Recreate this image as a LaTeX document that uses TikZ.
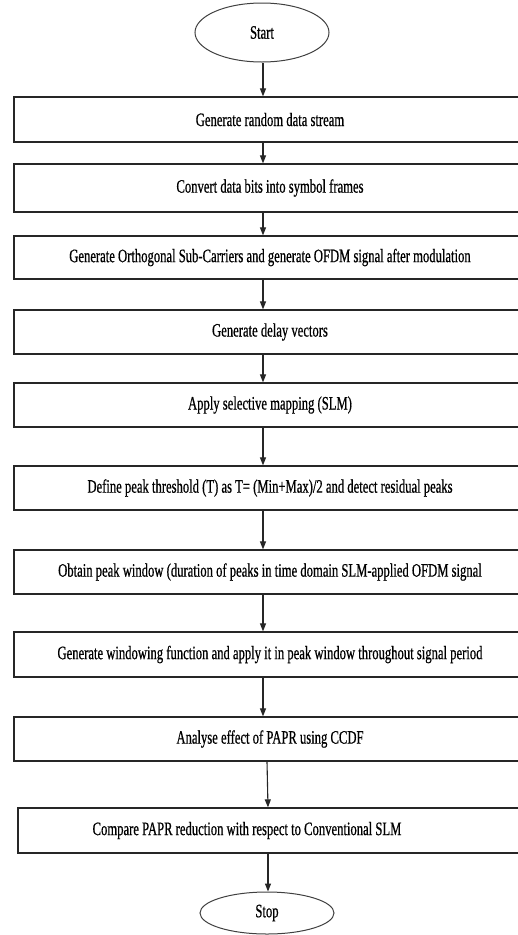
\documentclass[tikz,border=0pt]{standalone}
\usepackage{fontspec}
\newfontfamily\nf[FakeStretch=0.665,FakeBold=0.6]{Liberation Serif}
\usetikzlibrary{shapes.geometric,arrows.meta}
\tikzset{
  stepbox/.style={draw=black!85, line width=1.2pt, rectangle, minimum width=512pt, inner sep=0pt, font=\nf\fontsize{19}{21}\selectfont, text=black},
  txt/.style={inner sep=0pt, font=\nf\fontsize{19}{21}\selectfont, text=black},
  term/.style={draw=black!75, line width=1pt, ellipse, minimum width=134pt, inner sep=0pt, font=\nf\fontsize{19}{21}\selectfont, text=black},
  arr/.style={draw=black!85, line width=1.1pt, -{Triangle[length=8pt,width=6pt]}}
}
\begin{document}
\begin{tikzpicture}[x=1pt,y=-1pt]
\useasboundingbox (0,0) rectangle (518,935);
\fill[white] (0,0) rectangle (518,935);
\clip (0,0) rectangle (518,935);
\node[term, minimum height=59pt] (start) at (262,32.5) {Start};
\node[stepbox, minimum height=45pt] (b1) at (270,119.5) {Generate random data stream};
\node[stepbox, minimum height=48pt] (b2) at (270,188) {Convert data bits into symbol frames};
\node[stepbox, minimum height=43pt] (b3) at (270,257.5) {Generate Orthogonal Sub-Carriers and generate OFDM signal after modulation};
\node[stepbox, minimum height=44pt] (b4) at (270,332) {Generate delay vectors};
\node[stepbox, minimum height=44pt] (b5) at (270,405) {Apply selective mapping (SLM)};
\node[stepbox, minimum height=44pt] (b6) at (270,488) {Define peak threshold (T) as T= (Min+Max)/2 and detect residual peaks};
\node[stepbox, minimum height=44pt] (b7) at (270,572) {Obtain peak window (duration of peaks in time domain SLM-applied OFDM signal};
\node[stepbox, minimum height=45pt] (b8) at (270,654.5) {Generate windowing function and apply it in peak window throughout signal period};
\node[stepbox, minimum height=44pt] (b9) at (270,739) {Analyse effect of PAPR using CCDF};
\node[stepbox, minimum height=45pt] (b10) at (274,830.5) {};
\node[txt] (b10t) at (247,830.5) {Compare PAPR reduction with respect to Conventional SLM};
\node[term, minimum height=42pt] (stop) at (267,913) {Stop};
\draw[arr] ([xshift=1pt]start.south) -- ([xshift=-7pt]b1.north);
\draw[arr] ([xshift=-7pt]b1.south) -- ([xshift=-7pt]b2.north);
\draw[arr] ([xshift=-7pt]b2.south) -- ([xshift=-7pt]b3.north);
\draw[arr] ([xshift=-7pt]b3.south) -- ([xshift=-7pt]b4.north);
\draw[arr] ([xshift=-7pt]b4.south) -- ([xshift=-7pt]b5.north);
\draw[arr] ([xshift=-7pt]b5.south) -- ([xshift=-7pt]b6.north);
\draw[arr] ([xshift=-7pt]b6.south) -- ([xshift=-7pt]b7.north);
\draw[arr] ([xshift=-7pt]b7.south) -- ([xshift=-7pt]b8.north);
\draw[arr] ([xshift=-7pt]b8.south) -- ([xshift=-7pt]b9.north);
\draw[arr] ([xshift=-3pt]b9.south) -- ([xshift=-6pt]b10.north);
\draw[arr] ([xshift=-6pt]b10.south) -- ([xshift=1pt]stop.north);
\end{tikzpicture}
\end{document}
